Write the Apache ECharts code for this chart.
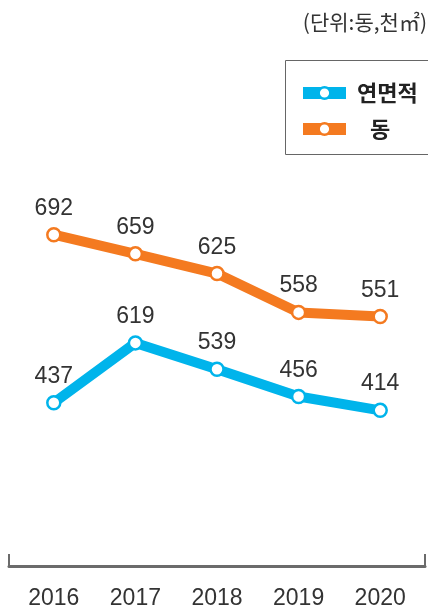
<!DOCTYPE html>
<html>
<head>
<meta charset="utf-8">
<script src="https://cdn.jsdelivr.net/npm/echarts@6/dist/echarts.min.js"></script>
<style>
	html, body { margin: 0; padding: 0; background: #fff; }
	#chart { width: 428px; height: 610px; }
</style>
</head>
<body>
<div id="chart"></div>
<script>
// 연도
const years = ["2016", "2017", "2018", "2019", "2020"];
// 동 (개수)
const dongValues = [692, 659, 625, 558, 551];
// 연면적 (천㎡)
const areaValues = [437, 619, 539, 456, 414];

const ORANGE = "#f47a20";
const BLUE = "#00b4eb";
const NUM_FONT = "Liberation Sans";
const KR_FONT = "Noto Sans CJK KR";
// 범례 아이콘: 막대 + 원형 테두리, 가운데 흰 구멍 (안쪽 원은 반대 방향으로 두 번 그려 비움)
const HOLE = "M21.5,2.4 A4.6,4.6 0 1,0 21.5,11.6 A4.6,4.6 0 1,0 21.5,2.4 Z ";
const LEGEND_ICON =
	"path://M0,1 H43 V13 H0 Z " +
	"M21.5,0 A7,7 0 1,1 21.5,14 A7,7 0 1,1 21.5,0 Z " +
	HOLE + HOLE;

const chart = echarts.init(document.getElementById("chart"), null, { renderer: "canvas" });

function lineSeries(name, data, color, yIndex) {
	return {
		name,
		type: "line",
		xAxisIndex: 0,
		yAxisIndex: yIndex,
		data,
		symbol: "circle",
		symbolSize: 13,
		lineStyle: { color, width: 10 },
		itemStyle: { color: "#fff", borderColor: color, borderWidth: 2.5 },
		label: {
			show: true,
			position: "top",
			distance: 7,
			fontSize: 23,
			fontFamily: NUM_FONT,
			color: "#333",
		},
		emphasis: { disabled: true },
	};
}

const option = {
	animation: false,
	title: {
		text: "(단위:동,천㎡)",
		right: -4,
		top: 7,
		textStyle: { fontSize: 21, fontWeight: "normal", color: "#333", fontFamily: KR_FONT },
	},
	// 범례 테두리 (오른쪽은 화면 밖으로 이어짐)
	graphic: [
		{
			type: "rect",
			shape: { x: 285.5, y: 60.5, width: 170, height: 94 },
			style: { fill: "none", stroke: "#666", lineWidth: 1 },
		},
	],
	legend: {
		data: [
			{ name: "연면적", icon: LEGEND_ICON, itemStyle: { color: BLUE, borderWidth: 0 } },
			{ name: "동", icon: LEGEND_ICON, itemStyle: { color: ORANGE, borderWidth: 0 } },
		],
		orient: "vertical",
		left: 303,
		top: 82,
		padding: 0,
		itemGap: 14,
		itemWidth: 43,
		itemHeight: 14,
		formatter: (name) => (name === "동" ? "{d|" + name + "}" : "{t|" + name + "}"),
		textStyle: {
			padding: [0, 0, 0, 6],
			rich: {
				t: { fontSize: 22, fontWeight: "bold", color: "#222", fontFamily: KR_FONT },
				d: {
					fontSize: 22,
					fontWeight: "bold",
					color: "#222",
					fontFamily: KR_FONT,
					padding: [0, 0, 0, 13],
				},
			},
		},
	},
	grid: [
		{ left: 13, right: 7, top: 0, bottom: 44 },
		{ left: 9, right: 3, top: 0, bottom: 44 },
	],
	xAxis: [
		{
			type: "category",
			gridIndex: 0,
			data: years,
			boundaryGap: true,
			axisLine: { show: false },
			axisTick: { show: false },
			axisLabel: { fontSize: 23, color: "#333", margin: 21, fontFamily: NUM_FONT },
		},
		{
			type: "value",
			gridIndex: 1,
			min: 0,
			max: 1,
			interval: 1,
			axisLine: { onZero: false, lineStyle: { color: "#6b6b6b", width: 3 } },
			axisTick: { inside: true, length: 12, lineStyle: { color: "#6b6b6b", width: 2 } },
			axisLabel: { show: false },
			splitLine: { show: false },
		},
	],
	yAxis: [
		{ type: "value", gridIndex: 0, min: 120.5, max: 1096.9, show: false },
		{ type: "value", gridIndex: 0, min: -59, max: 1661, show: false },
		{ type: "value", gridIndex: 1, min: 0, max: 1, show: false },
	],
	series: [
		lineSeries("연면적", areaValues, BLUE, 1),
		lineSeries("동", dongValues, ORANGE, 0),
	],
};

chart.setOption(option);
</script>
</body>
</html>
